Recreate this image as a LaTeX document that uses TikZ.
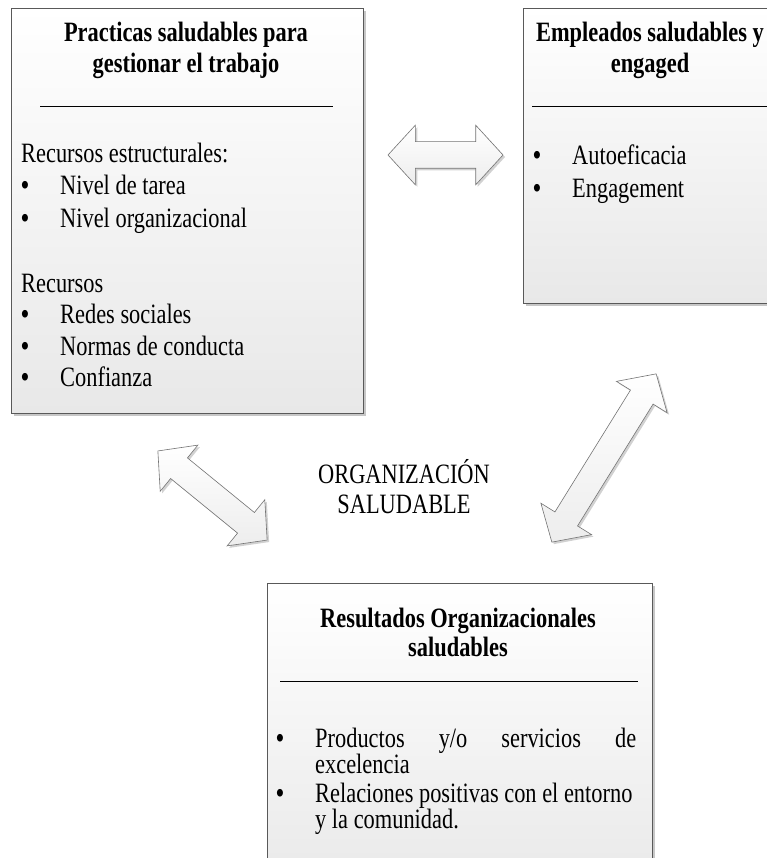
\documentclass[tikz,border=0pt]{standalone}
\usepackage{fontspec}
\setmainfont{Liberation Serif}[FakeStretch=0.8]
\usetikzlibrary{shapes.arrows,shadows,positioning}

\newcommand{\vineta}{\makebox[39pt][l]{\textbf{\textbullet}}}

\begin{document}
\begin{tikzpicture}[x=1pt,y=-1pt,
  caja/.style={draw=black!65, line width=0.9pt, top color=white, bottom color=black!9,
    inner sep=0pt, drop shadow={shadow xshift=3pt, shadow yshift=-3pt, fill=black!22, opacity=1}},
  titulo/.style={font=\bfseries\fontsize{28}{30}\selectfont, inner sep=0pt, anchor=base},
  texto/.style={font=\fontsize{28}{30}\selectfont, inner sep=0pt, anchor=base west},
  centro/.style={font=\fontsize{28}{30}\selectfont, inner sep=0pt, anchor=base},
  raya/.style={line width=1pt},
  flecha/.style={double arrow, draw=black!55, line width=0.6pt, top color=white, bottom color=black!7,
    minimum width=59pt, double arrow head extend=16.5pt, double arrow tip angle=95,
    inner xsep=0pt, inner ysep=13pt,
    drop shadow={shadow xshift=2pt, shadow yshift=-2pt, fill=black!18, opacity=1}}]
  \clip (0,0) rectangle (767,858);

  % cajas
  \node[caja, minimum width=352pt, minimum height=405pt] (practicas) at (187,210.5) {};
  \node[caja, minimum width=257pt, minimum height=295pt] (empleados) at (651.5,155.5) {};
  \node[caja, minimum width=385pt, minimum height=317pt] (resultados) at (459.5,741.5) {};

  % caja izquierda
  \node[titulo] (p1) at (186,42) {Practicas saludables para};
  \node[titulo] (p2) at (186,73) {gestionar el trabajo};
  \coordinate (pa) at (40,107);
  \coordinate (pb) at (333,107);
  \draw[raya] (pa) -- (pb);
  \node[texto] (r1) at (21,163) {Recursos estructurales:};
  \node[texto] (r2) at (21,195) {\vineta Nivel de tarea};
  \node[texto] (r3) at (21,228) {\vineta Nivel organizacional};
  \node[texto] (r4) at (21,292) {Recursos};
  \node[texto] (r5) at (21,323) {\vineta Redes sociales};
  \node[texto] (r6) at (21,355) {\vineta Normas de conducta};
  \node[texto] (r7) at (21,386) {\vineta Confianza};

  % caja derecha
  \node[titulo] (e1) at (650,42) {Empleados saludables y};
  \node[titulo] (e2) at (650,73) {engaged};
  \coordinate (ea) at (532,107);
  \coordinate (eb) at (780,107);
  \draw[raya] (ea) -- (eb);
  \node[texto] (a1) at (533,165) {\vineta Autoeficacia};
  \node[texto] (a2) at (533,198) {\vineta Engagement};

  % caja inferior
  \node[titulo] (s1) at (458,627) {Resultados Organizacionales};
  \node[titulo] (s2) at (458,656) {saludables};
  \coordinate (sa) at (280,681);
  \coordinate (sb) at (638,681);
  \draw[raya] (sa) -- (sb);
  \node[texto] (o1) at (276,747) {\vineta\makebox[321pt][s]{Productos y/o servicios de}};
  \node[texto] (o2) at (315,773) {excelencia};
  \node[texto] (o3) at (276,802) {\vineta Relaciones positivas con el entorno};
  \node[texto] (o4) at (315,828) {y la comunidad.};

  % centro
  \node[centro] (org1) at (404,483) {ORGANIZACIÓN};
  \node[centro] (org2) at (404,513) {SALUDABLE};

  % flechas
  \node[flecha, minimum height=115pt] (fh) at (445.5,155) {};
  \node[flecha, minimum height=141pt, rotate=-39.2] (fi) at (212.5,495.5) {};
  \node[flecha, minimum height=198pt, rotate=58.2] (fd) at (604,458) {};
\end{tikzpicture}
\end{document}
